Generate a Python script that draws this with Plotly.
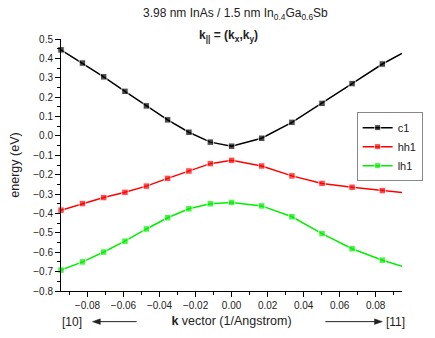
import plotly.graph_objects as go

# k values: [10] direction (negative side) and [11] direction (positive side)
k_vals = [-0.0947, -0.0828, -0.0710, -0.0592, -0.0473, -0.0355, -0.0237, -0.0118, 0.0,
          0.0167, 0.0335, 0.0502, 0.0669, 0.0837, 0.1004]
c1 = [0.444, 0.376, 0.305, 0.230, 0.155, 0.083, 0.019, -0.032, -0.053,
      -0.012, 0.070, 0.168, 0.270, 0.371, 0.455]
hh1 = [-0.383, -0.349, -0.318, -0.291, -0.259, -0.219, -0.181, -0.143, -0.126,
       -0.155, -0.206, -0.245, -0.265, -0.282, -0.298]
lh1 = [-0.692, -0.650, -0.599, -0.543, -0.480, -0.422, -0.376, -0.350, -0.343,
       -0.361, -0.417, -0.504, -0.582, -0.641, -0.689]
series_names = ["c1", "hh1", "lh1"]
series_colors = ["#000000", "#ff0000", "#00ee00"]

x_ticks = [-0.08, -0.06, -0.04, -0.02, 0.0, 0.02, 0.04, 0.06, 0.08]
y_ticks = [0.5, 0.4, 0.3, 0.2, 0.1, 0.0, -0.1, -0.2, -0.3, -0.4, -0.5, -0.6, -0.7, -0.8]
x_range = [-0.0947, 0.0946]
y_range = [-0.8, 0.5]

FONT = "Liberation Sans, Arial, sans-serif"

# plot-area pixel geometry (for paper-coordinate conversions of decorations)
L, R, T, B = 61, 27, 39, 44
W, H = 435, 338
PW, PH = W - L - R, H - T - B


def px(xp):
    return (xp - L) / PW


def py(yp):
    return (H - B - yp) / PH


fig = go.Figure()
for name, vals, col in zip(series_names, [c1, hh1, lh1], series_colors):
    sizes = [6.5 if x_range[0] - 1e-9 <= k <= x_range[1] else 0 for k in k_vals]
    fig.add_trace(go.Scatter(
        x=k_vals, y=vals, name=name, mode="lines+markers",
        line=dict(color=col, width=1.5),
        marker=dict(symbol="square", size=sizes, color=col),
        cliponaxis=False,
    ))

axis_common = dict(
    showline=True, linecolor="black", linewidth=1,
    ticks="outside", ticklen=5, tickwidth=1, tickcolor="black",
    showgrid=False, zeroline=False, mirror=False,
    tickfont=dict(family=FONT, size=10, color="#222"),
)

fig.update_xaxes(
    range=x_range, tickvals=x_ticks, tickformat=".2f",
    minor=dict(dtick=0.01, tick0=0, ticks="outside", ticklen=3, tickcolor="black", showgrid=False),
    title=dict(text="<b>k</b> vector (1/Angstrom)", font=dict(family=FONT, size=12.5, color="#222"), standoff=6),
    **axis_common,
)
fig.update_yaxes(
    range=y_range, tickvals=y_ticks, tickformat=".1f",
    minor=dict(dtick=0.05, tick0=0, ticks="outside", ticklen=3, tickcolor="black", showgrid=False),
    title=dict(text="energy (eV)", font=dict(family=FONT, size=12.5, color="#222"), standoff=10),
    **axis_common,
)

ay = 325
shapes = [
    # left arrow ([10])
    dict(type="line", xref="paper", yref="paper", x0=px(99), x1=px(138), y0=py(ay), y1=py(ay),
         line=dict(color="#222", width=1)),
    dict(type="path", xref="paper", yref="paper",
         path=f"M {px(93)},{py(ay)} L {px(101)},{py(ay - 2.8)} L {px(101)},{py(ay + 2.8)} Z",
         fillcolor="#222", line=dict(color="#222", width=0.5)),
    # right arrow ([11])
    dict(type="line", xref="paper", yref="paper", x0=px(330), x1=px(382), y0=py(ay), y1=py(ay),
         line=dict(color="#222", width=1)),
    dict(type="path", xref="paper", yref="paper",
         path=f"M {px(388)},{py(ay)} L {px(380)},{py(ay - 2.8)} L {px(380)},{py(ay + 2.8)} Z",
         fillcolor="#222", line=dict(color="#222", width=0.5)),
]

fig.update_layout(
    width=W, height=H,
    margin=dict(l=L, r=R, t=T, b=B),
    paper_bgcolor="white", plot_bgcolor="white",
    font=dict(family=FONT, size=11, color="#222"),
    showlegend=True,
    legend=dict(
        x=px(429), y=py(113), xanchor="right", yanchor="top",
        bgcolor="white", bordercolor="#888", borderwidth=1,
        font=dict(family=FONT, size=11, color="#222"),
        tracegroupgap=0,
    ),
    shapes=shapes,
    annotations=[
        dict(text="3.98 nm InAs / 1.5 nm In<sub>0.4</sub>Ga<sub>0.6</sub>Sb",
             xref="paper", yref="paper", x=px(238.5), y=py(14),
             xanchor="center", yanchor="middle", showarrow=False,
             font=dict(family=FONT, size=12, color="#222")),
        dict(text="<b>k<sub>||</sub> = (k<sub>x</sub>,k<sub>y</sub>)</b>",
             xref="paper", yref="paper", x=px(231), y=py(36),
             xanchor="center", yanchor="middle", showarrow=False,
             font=dict(family=FONT, size=12, color="#222")),
        dict(text="[10]", xref="paper", yref="paper", x=px(72), y=py(ay),
             xanchor="center", yanchor="middle", showarrow=False,
             font=dict(family=FONT, size=12, color="#222")),
        dict(text="[11]", xref="paper", yref="paper", x=px(401), y=py(ay),
             xanchor="center", yanchor="middle", showarrow=False,
             font=dict(family=FONT, size=12, color="#222")),
    ],
)

fig.write_html("out.html")
